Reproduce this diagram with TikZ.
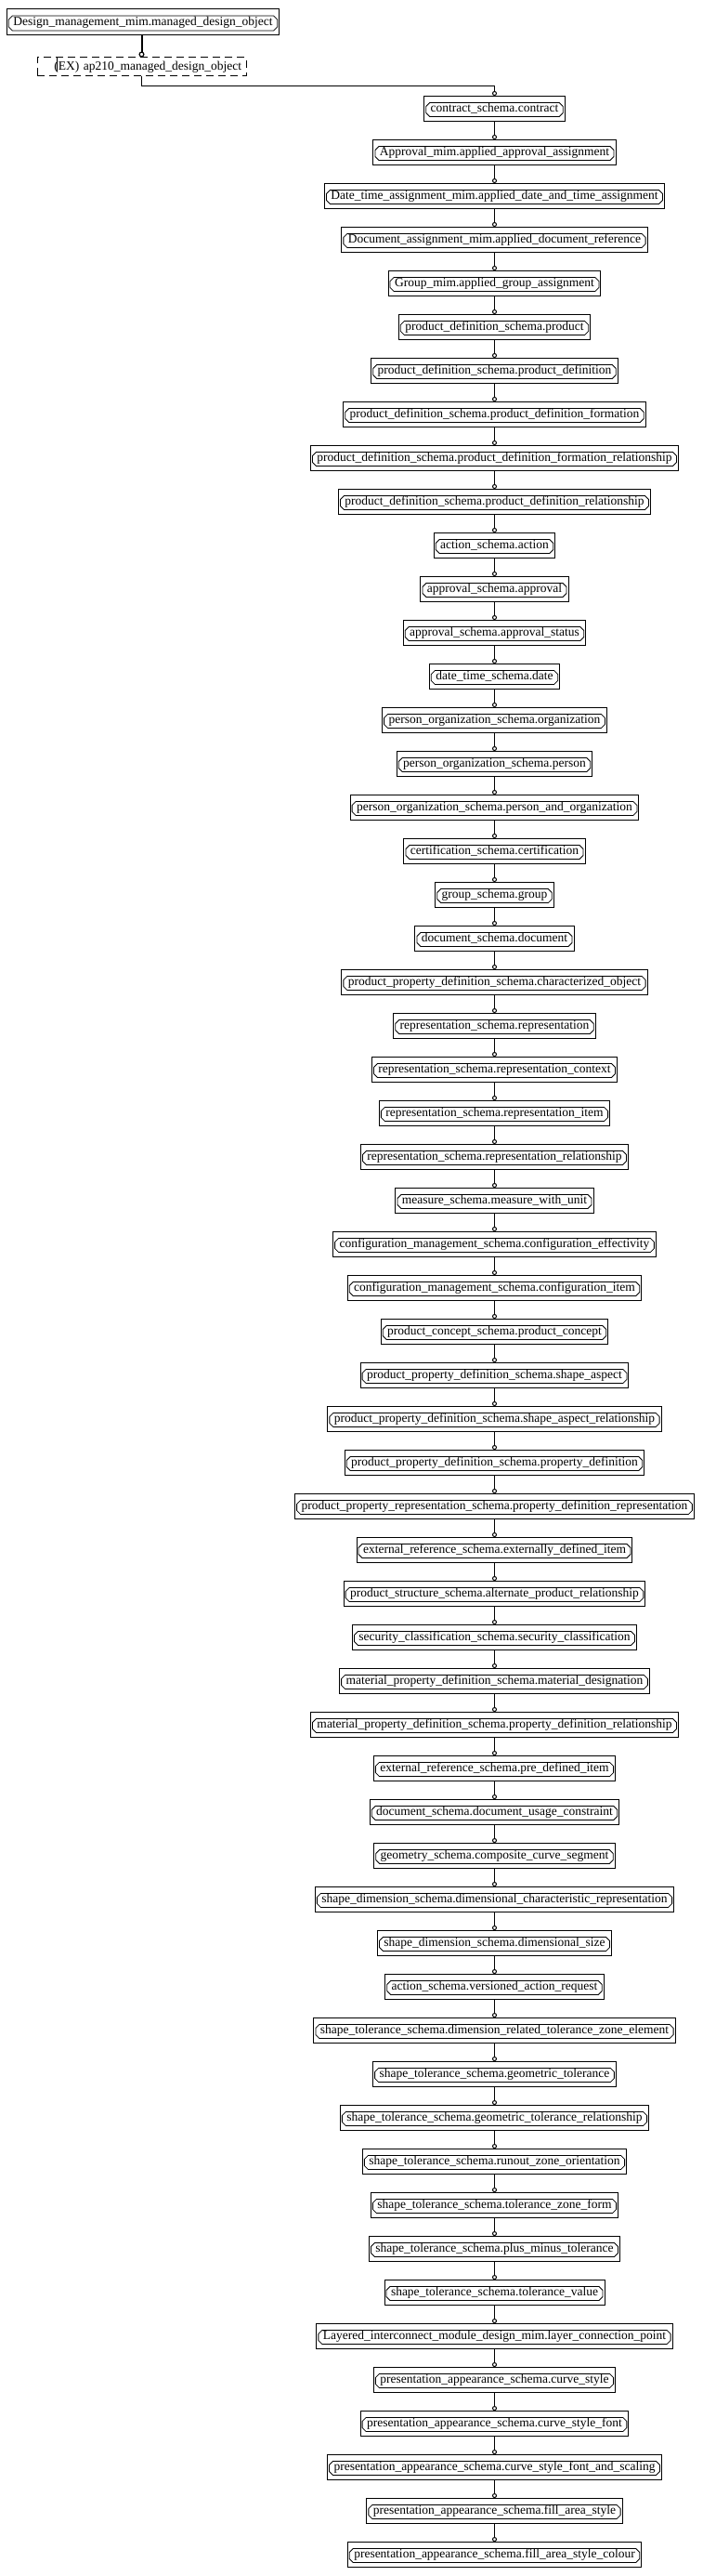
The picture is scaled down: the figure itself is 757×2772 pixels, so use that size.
\documentclass[tikz,border=0pt]{standalone}
\usepackage{fontspec}
\setmainfont{Liberation Serif}
\usetikzlibrary{arrows.meta,calc}

\tikzset{
  entity/.style={draw, line width=1pt, minimum height=27pt, inner xsep=7pt, inner ysep=0pt,
    font=\fontsize{13.5}{16}\selectfont,
    path picture={\draw[line width=0.8pt] let \p1=(path picture bounding box.north west),
      \p2=(path picture bounding box.south east) in
      (\x1+6pt,\y1-7pt) -- (\x2-6pt,\y1-7pt) -- (\x2-2pt,\y1-11pt) -- (\x2-2pt,\y2+9pt)
      -- (\x2-6pt,\y2+5pt) -- (\x1+6pt,\y2+5pt) -- (\x1+2pt,\y2+9pt) -- (\x1+2pt,\y1-11pt) -- cycle;}},
  exbox/.style={draw, line width=1pt, dash pattern=on 8pt off 5pt, minimum height=20pt,
    inner xsep=5pt, inner ysep=0pt, text width=215pt, align=right,
    font=\fontsize{13.5}{16}\selectfont},
  link/.style={line width=1pt, -{Circle[open,length=5pt,width=5pt]}},
  mainlink/.style={line width=2pt, -{Circle[open,length=6pt,width=6pt,line width=1.2pt]}}
}

\begin{document}
\begin{tikzpicture}[x=1pt, y=-1pt]
\useasboundingbox (0,0) rectangle (757,2772);

\node[entity, minimum height=28pt] (design) at (154,24) {Design\_management\_mim.managed\_design\_object};
\node[exbox] (ex) at (152.5,72) {(EX) ap210\_managed\_design\_object};
\draw[line width=1pt] ($(ex.north west)+(22,0)$) -- ++(0,16);
\draw[mainlink] (design.south -| ex.north) -- (ex.north);

% chain of supertypes
\foreach \name [count=\i] in {
contract\_schema.contract,
Approval\_mim.applied\_approval\_assignment,
Date\_time\_assignment\_mim.applied\_date\_and\_time\_assignment,
Document\_assignment\_mim.applied\_document\_reference,
Group\_mim.applied\_group\_assignment,
product\_definition\_schema.product,
product\_definition\_schema.product\_definition,
product\_definition\_schema.product\_definition\_formation,
product\_definition\_schema.product\_definition\_formation\_relationship,
product\_definition\_schema.product\_definition\_relationship,
action\_schema.action,
approval\_schema.approval,
approval\_schema.approval\_status,
date\_time\_schema.date,
person\_organization\_schema.organization,
person\_organization\_schema.person,
person\_organization\_schema.person\_and\_organization,
certification\_schema.certification,
group\_schema.group,
document\_schema.document,
product\_property\_definition\_schema.characterized\_object,
representation\_schema.representation,
representation\_schema.representation\_context,
representation\_schema.representation\_item,
representation\_schema.representation\_relationship,
measure\_schema.measure\_with\_unit,
configuration\_management\_schema.configuration\_effectivity,
configuration\_management\_schema.configuration\_item,
product\_concept\_schema.product\_concept,
product\_property\_definition\_schema.shape\_aspect,
product\_property\_definition\_schema.shape\_aspect\_relationship,
product\_property\_definition\_schema.property\_definition,
product\_property\_representation\_schema.property\_definition\_representation,
external\_reference\_schema.externally\_defined\_item,
product\_structure\_schema.alternate\_product\_relationship,
security\_classification\_schema.security\_classification,
material\_property\_definition\_schema.material\_designation,
material\_property\_definition\_schema.property\_definition\_relationship,
external\_reference\_schema.pre\_defined\_item,
document\_schema.document\_usage\_constraint,
geometry\_schema.composite\_curve\_segment,
shape\_dimension\_schema.dimensional\_characteristic\_representation,
shape\_dimension\_schema.dimensional\_size,
action\_schema.versioned\_action\_request,
shape\_tolerance\_schema.dimension\_related\_tolerance\_zone\_element,
shape\_tolerance\_schema.geometric\_tolerance,
shape\_tolerance\_schema.geometric\_tolerance\_relationship,
shape\_tolerance\_schema.runout\_zone\_orientation,
shape\_tolerance\_schema.tolerance\_zone\_form,
shape\_tolerance\_schema.plus\_minus\_tolerance,
shape\_tolerance\_schema.tolerance\_value,
Layered\_interconnect\_module\_design\_mim.layer\_connection\_point,
presentation\_appearance\_schema.curve\_style,
presentation\_appearance\_schema.curve\_style\_font,
presentation\_appearance\_schema.curve\_style\_font\_and\_scaling,
presentation\_appearance\_schema.fill\_area\_style,
presentation\_appearance\_schema.fill\_area\_style\_colour}{
\node[entity] (ent\i) at (532.5,{117+47*(\i-1)}) {\name};
}

\draw[link] (ex.south) -- ++(0,10) -| (ent1.north);
\foreach \i in {2,...,57}{
\pgfmathtruncatemacro\j{\i-1}
\draw[link] (ent\j.south) -- (ent\i.north);
}
\end{tikzpicture}
\end{document}
